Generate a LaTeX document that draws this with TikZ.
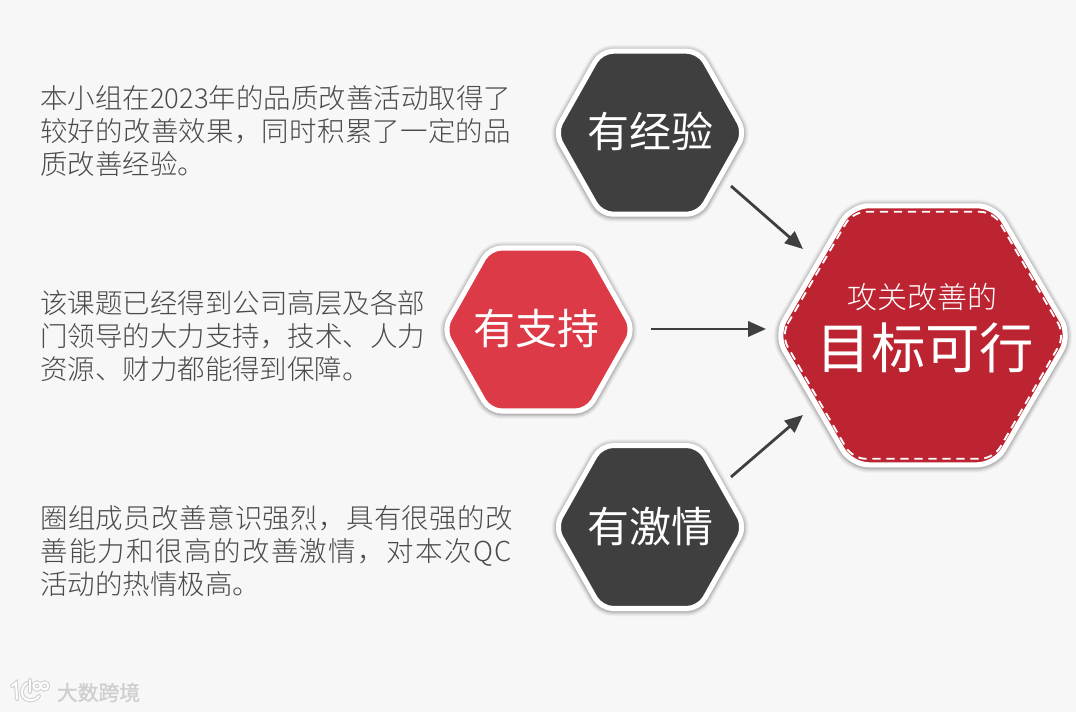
\documentclass[tikz,border=0pt]{standalone}
\usepackage{fontspec}
\usetikzlibrary{arrows.meta,calc}
\setmainfont{Noto Sans CJK SC}
\newfontfamily\cjk{Noto Sans CJK SC}[UprightFont=* Light]
\newfontfamily\cjkreg{Noto Sans CJK SC}
\newfontfamily\cjkbold{Noto Sans CJK SC}[FakeBold=1.2]
\definecolor{pagebg}{HTML}{F7F7F7}
\definecolor{darkhex}{HTML}{3F3F3F}
\definecolor{redhex}{HTML}{DC3A46}
\definecolor{bighex}{HTML}{BB2430}
\definecolor{bodytxt}{HTML}{4A4A4A}
\definecolor{markgrey}{HTML}{CFCFCF}
\tikzset{
  x=0.75pt,y=-0.75pt,
  para/.style={anchor=north west,inner sep=0pt,align=left,text=bodytxt,font=\cjk\fontsize{20.6}{24.75}\selectfont},
  hexlabel/.style={inner sep=0pt,text=white,font=\cjkreg\fontsize{31.5}{36}\selectfont},
  flow/.style={draw=darkhex,line width=2.1pt,-{Triangle[length=13.5pt,width=11.5pt]}},
  logogrey/.style={draw=markgrey,line width=3pt,line cap=round,fill=none},
  logowhite/.style={draw=white,line width=1.5pt,line cap=round,fill=none}
}
% justified line: the characters are spread evenly over the given width
\def\spr#1{\ifx#1\relax\unskip\else#1\hskip 0pt plus 1fil\relax\expandafter\spr\fi}
\newcommand{\jl}[2]{\hbox to #1{\spr#2\relax}}
\newcommand{\hexshape}[3]{(-#1,0) -- (-#1+#3,-#2) -- (#1-#3,-#2) -- (#1,0) -- (#1-#3,#2) -- (-#1+#3,#2) -- cycle}
% centre x, centre y, half width, half height, slant, fill, border(pt), radius
\newcommand{\hexa}[8]{%
  \begin{scope}[shift={(#1,#2)}]
    \foreach \w/\o in {7/0.03,5.5/0.04,4/0.05,2.5/0.07,1.2/0.08}{
      \draw[black,opacity=\o,line width=#7pt+\w pt,rounded corners=#8pt,shift={(0,0.8)}] \hexshape{#3}{#4}{#5};
    }
    \draw[white,line width=#7pt,fill=#6,rounded corners=#8pt] \hexshape{#3}{#4}{#5};
  \end{scope}}
\begin{document}
\begin{tikzpicture}
\useasboundingbox (0,0) rectangle (1076,712);
\fill[pagebg] (0,0) rectangle (1076,712);

\hexa{650}{132.7}{95}{81.5}{46}{darkhex}{3.8}{9}
\hexa{538.5}{329.5}{95}{81.5}{46}{redhex}{3.8}{9}
\hexa{650}{527}{95}{81.5}{46}{darkhex}{3.8}{9}
\hexa{923}{335.3}{147.3}{129.5}{75.6}{bighex}{3.8}{13}
\begin{scope}[shift={(923,335.3)}]
  \draw[white,line width=1.4pt,dash pattern=on 6.2pt off 4.3pt,rounded corners=10pt] \hexshape{142}{123.5}{71.5};
\end{scope}

\node[hexlabel] (exp) at (650,131) {有经验};
\node[hexlabel] (sup) at (536,329) {有支持};
\node[hexlabel] (pas) at (650,527) {有激情};
\node[inner sep=0pt,text=white,font=\cjk\fontsize{22.5}{26}\selectfont] (goalsub) at (922.5,297) {攻关改善的};
\node[inner sep=0pt,text=white,font=\cjkreg\fontsize{40.8}{46}\selectfont] (goal) at (925.5,348) {目标可行};

\coordinate (expout) at (731,186);
\coordinate (supout) at (651,329);
\coordinate (pasout) at (731,477);
\coordinate (goalina) at (803,249);
\coordinate (goalinb) at (766,329);
\coordinate (goalinc) at (803,415);
\draw[flow] (expout) -- (goalina);
\draw[flow] (supout) -- (goalinb);
\draw[flow] (pasout) -- (goalinc);

\node[para] (textexp) at (40,85) {\jl{353.2pt}{本小组在2023年的品质改善活动取得了}\\\jl{353.2pt}{较好的改善效果，同时积累了一定的品}\\质改善经验。};
\node[para] (textsup) at (40,290) {\jl{288.6pt}{该课题已经得到公司高层及各部}\\\jl{288.6pt}{门领导的大力支持，技术、人力}\\资源、财力都能得到保障。};
\node[para] (textpas) at (40,505) {\jl{354.5pt}{圈组成员改善意识强烈，具有很强的改}\\\jl{353.5pt}{善能力和很高的改善激情，对本次QC}\\活动的热情极高。};

% watermark
\foreach \st in {logogrey,logowhite}{
  \draw[\st] (12,686) -- (16,683) -- (17,699);
  \draw[\st] (27,683) .. controls (19,688) and (20,702) .. (33,700) .. controls (36,699) and (38,698) .. (39,696);
  \draw[\st] (30,680) -- (30,692);
  \draw[\st] (37,686) circle (3.6);
  \draw[\st] (44.5,686) circle (3.6);
}
\node[inner sep=0pt,text=markgrey,font=\cjkbold\fontsize{15.6}{18}\selectfont] (mark) at (98.5,692.5) {大数跨境};
\end{tikzpicture}
\end{document}
